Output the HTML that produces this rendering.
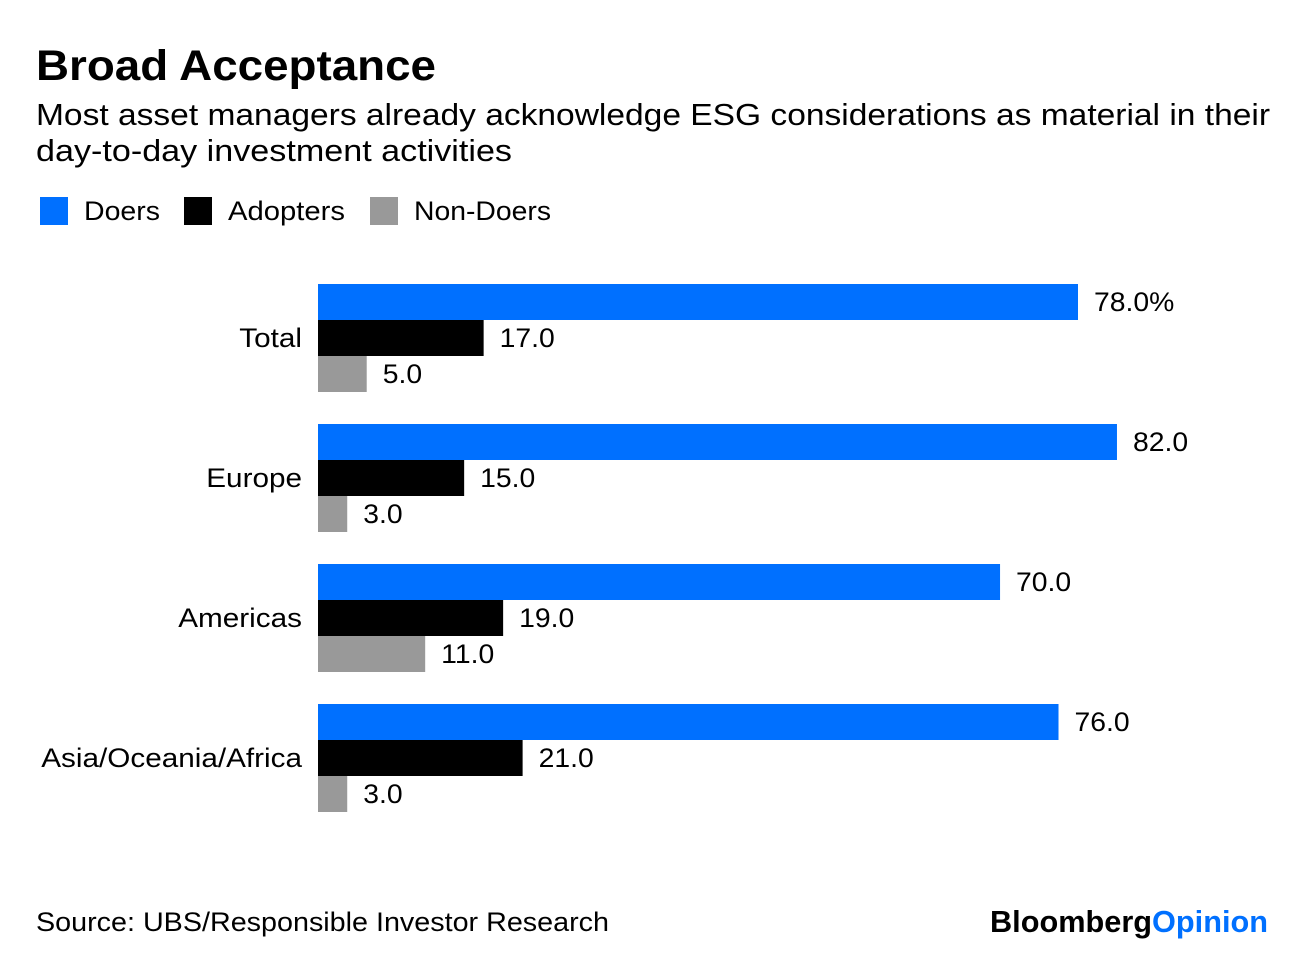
<!DOCTYPE html>
<html><head><meta charset="utf-8"><style>
body{margin:0;width:1296px;height:954px;background:#fff;font-family:"Liberation Sans",Arial,sans-serif;overflow:hidden;position:relative}
</style></head><body>
<svg id="chart" width="1296" height="954" style="position:absolute;left:0;top:0" font-family="Liberation Sans, Arial, sans-serif">
<text x="36" y="80" font-size="43" font-weight="bold" textLength="400" lengthAdjust="spacingAndGlyphs">Broad Acceptance</text>
<text x="36" y="125" font-size="31" textLength="1234" lengthAdjust="spacingAndGlyphs">Most asset managers already acknowledge ESG considerations as material in their</text>
<text x="36" y="161" font-size="31" textLength="476" lengthAdjust="spacingAndGlyphs">day-to-day investment activities</text>
<rect x="40" y="197" width="28" height="28" fill="#0070ff"/>
<text x="84" y="220" font-size="27" textLength="76" lengthAdjust="spacingAndGlyphs">Doers</text>
<rect x="184" y="197" width="28" height="28" fill="#000"/>
<text x="228" y="220" font-size="27" textLength="117" lengthAdjust="spacingAndGlyphs">Adopters</text>
<rect x="370" y="197" width="28" height="28" fill="#999"/>
<text x="414" y="220" font-size="27" textLength="137" lengthAdjust="spacingAndGlyphs">Non-Doers</text>
<text x="36" y="931" font-size="27" textLength="573" lengthAdjust="spacingAndGlyphs">Source: UBS/Responsible Investor Research</text>
<text x="990" y="932" font-size="31" font-weight="bold" textLength="278" lengthAdjust="spacingAndGlyphs">Bloomberg<tspan fill="#0070ff">Opinion</tspan></text>
</svg>
<script>
const categories=["Total","Europe","Americas","Asia/Oceania/Africa"];
const doers=[78,82,70,76];
const adopters=[17,15,19,21];
const nonDoers=[5,3,11,3];
const series=[doers,adopters,nonDoers];
const colors=["#0070ff","#000","#999"];
const names=["doers","adopters","non-doers"];
const svg=document.getElementById('chart');
const NS="http://www.w3.org/2000/svg";
const x0=318, scale=760/78;
const x=v=>x0+v*scale;
const groupY=i=>284+i*140;
const barH=36;
categories.forEach((c,i)=>{
  const lab=document.createElementNS(NS,'text');
  
  
  lab.setAttribute('x',302);lab.setAttribute('y',groupY(i)+barH*1.5+9);
  lab.setAttribute('text-anchor','end');lab.setAttribute('font-size','27');
  lab.setAttribute('transform','translate(302,0) scale(1.1,1) translate(-302,0)');
  lab.textContent=c;svg.appendChild(lab);
  series.forEach((s,j)=>{
    const y=groupY(i)+j*barH;
    const r=document.createElementNS(NS,'rect');
    
    
    r.setAttribute('x',x0);r.setAttribute('y',y);
    r.setAttribute('width',x(s[i])-x0);r.setAttribute('height',barH);
    r.setAttribute('fill',colors[j]);svg.appendChild(r);
    const t=document.createElementNS(NS,'text');
    
    
    const tx=x(s[i])+16;
    t.setAttribute('x',tx);t.setAttribute('y',y+barH/2+9);
    t.setAttribute('font-size','27');
    t.setAttribute('transform','translate('+tx+',0) scale(1.05,1) translate('+(-tx)+',0)');
    t.textContent=s[i].toFixed(1)+(i===0&&j===0?'%':'');
    svg.appendChild(t);
  });
});
</script>
</body></html>
